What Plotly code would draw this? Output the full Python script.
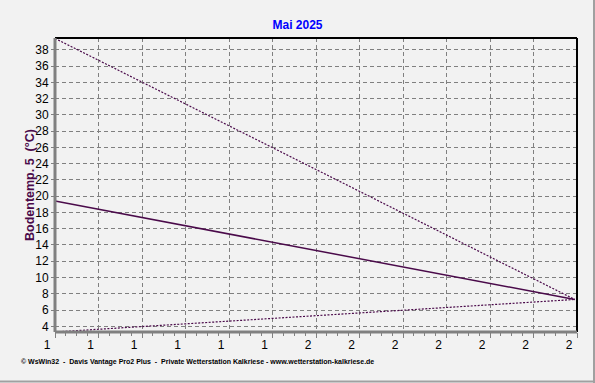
import plotly.graph_objects as go

# Data
x_pos = [0.0, 11.95]
t_max = [39.4, 7.3]
t_mean = [19.4, 7.3]
t_min = [3.3, 7.3]
x_tick_text = ["1", "1", "1", "1", "1", "1", "2", "2", "2", "2", "2", "2", "2"]
y_ticks = list(range(4, 40, 2))

line_col = "#4a0a4a"
grid_col = "#808080"
bg = "#f2f2f2"

fig = go.Figure()
fig.add_trace(go.Scatter(x=x_pos, y=t_max, mode="lines",
                         line=dict(color=line_col, width=1.2, dash="2px,1.5px"), hoverinfo="skip"))
fig.add_trace(go.Scatter(x=x_pos, y=t_mean, mode="lines",
                         line=dict(color=line_col, width=1.5), hoverinfo="skip"))
fig.add_trace(go.Scatter(x=x_pos, y=t_min, mode="lines",
                         line=dict(color=line_col, width=1.2, dash="2px,1.5px"), hoverinfo="skip"))

tick_font = dict(family="Liberation Sans, Arial, sans-serif", size=12, color="black")

fig.update_layout(
    width=595, height=383,
    margin=dict(l=55, r=18, t=38, b=51),
    paper_bgcolor=bg, plot_bgcolor=bg,
    showlegend=False,
    title=dict(text="<b>Mai 2025</b>", x=0.5, xanchor="center", y=1 - 25 / 383,
               yanchor="middle", font=dict(family="Liberation Sans, Arial, sans-serif",
                                            size=12, color="#0000ff")),
    xaxis=dict(range=[0, 12], tickvals=list(range(0, 13)), ticktext=x_tick_text,
               tickfont=tick_font, ticklabelshift=-8, ticklabelstandoff=-3,
               showgrid=True, gridcolor=grid_col, griddash="4px,3px", gridwidth=1,
               zeroline=False, showline=False,
               ticks="outside", ticklen=5, tickcolor=grid_col, tickwidth=1,
               minor=dict(dtick=0.25, ticks="outside", ticklen=3, tickcolor=grid_col,
                          showgrid=False)),
    yaxis=dict(range=[3.3, 39.45], tickvals=y_ticks, ticktext=[str(v) for v in y_ticks],
               showgrid=True, gridcolor=grid_col, griddash="4px,3px", gridwidth=1,
               zeroline=False, showline=False, ticks="outside", ticklen=3,
               tickcolor=grid_col, tickfont=tick_font),
)

fig.add_annotation(text="<b>Bodentemp. 5  (°C)</b>", textangle=-90,
                   xref="paper", yref="paper", x=(30 - 55) / 522, y=0.5,
                   xanchor="center", yanchor="middle", showarrow=False,
                   font=dict(family="Liberation Sans, Arial, sans-serif", size=12.5,
                             color="#4a0a4a"))

# frame lines
fig.add_shape(type="line", xref="paper", yref="paper", x0=0, x1=1, y0=1, y1=1,
              line=dict(color="black", width=2))
fig.add_shape(type="line", xref="paper", yref="paper", x0=1, x1=1, y0=0, y1=1,
              line=dict(color="black", width=2))
fig.add_shape(type="line", xref="paper", yref="paper", x0=0, x1=0, y0=0, y1=1,
              line=dict(color=grid_col, width=3))
fig.add_shape(type="line", xref="paper", yref="paper", x0=0, x1=1, y0=0, y1=0,
              line=dict(color=grid_col, width=3))
# page border (right / bottom)
fig.add_shape(type="line", xref="paper", yref="paper",
              x0=(594 - 55) / 522, x1=(594 - 55) / 522, y0=(332 - 383) / 294, y1=(332 - 0) / 294,
              line=dict(color="#a0a0a0", width=2))
fig.add_shape(type="line", xref="paper", yref="paper",
              x0=-55 / 522, x1=(595 - 55) / 522, y0=(332 - 381.5) / 294, y1=(332 - 381.5) / 294,
              line=dict(color="#a0a0a0", width=2))

fig.add_annotation(text="<b>© WsWin32  -  Davis Vantage Pro2 Plus  -  Private Wetterstation Kalkriese - www.wetterstation-kalkriese.de</b>",
                   xref="paper", yref="paper", x=(19 - 55) / 522, y=(332 - 362) / 294,
                   xanchor="left", yanchor="middle", showarrow=False,
                   font=dict(family="Liberation Sans, Arial, sans-serif", size=7, color="black"))

fig.write_html("out.html")
